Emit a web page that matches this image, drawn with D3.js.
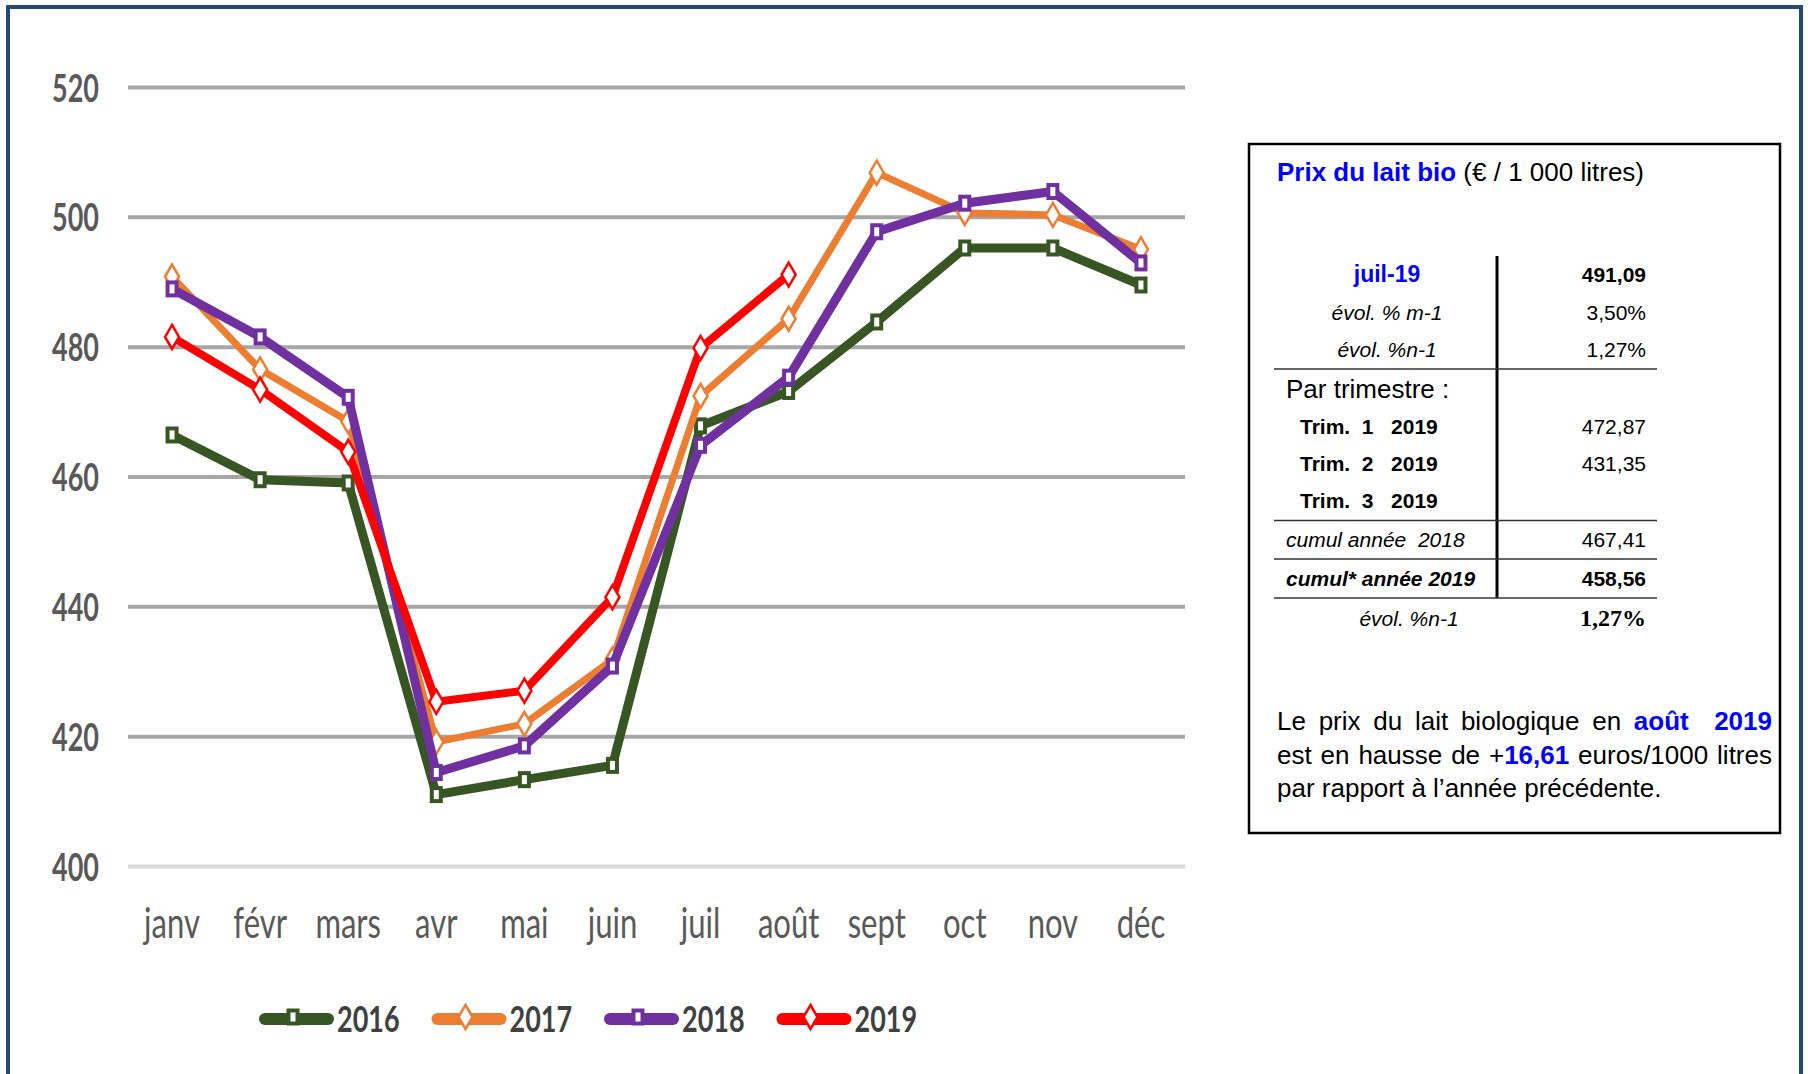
<!DOCTYPE html>
<html>
<head>
<meta charset="utf-8">
<script src="https://cdn.jsdelivr.net/npm/d3@7"></script>
<style>
  body { margin: 0; background: #fff; }
  text { white-space: pre; }
</style>
</head>
<body>
<div id="chart"></div>
<script>
// Data

const months = ['janv', 'févr', 'mars', 'avr', 'mai', 'juin', 'juil', 'août', 'sept', 'oct', 'nov', 'déc']
const years = ['2016', '2017', '2018', '2019']
const yTicks = [400, 420, 440, 460, 480, 500, 520]

const prices2016 = [466.4, 459.5, 459.0, 411.0, 413.3, 415.5, 467.8, 473.1, 483.8, 495.2, 495.2, 489.5]
const prices2017 = [490.8, 476.5, 468.5, 419.1, 421.9, 431.8, 472.4, 484.3, 506.8, 500.6, 500.3, 495.0]
const prices2018 = [488.9, 481.5, 472.2, 414.4, 418.5, 430.8, 464.8, 475.3, 497.7, 502.1, 503.9, 492.9]
const prices2019 = [481.5, 473.4, 463.8, 425.3, 427.0, 441.4, 479.8, 491.1]

const infoLabels = ['juil-19', 'évol. % m-1', 'évol. %n-1', 'Par trimestre :', 'Trim.  1   2019',
  'Trim.  2   2019', 'Trim.  3   2019', 'cumul année  2018', 'cumul* année 2019', 'évol. %n-1']
const infoValues = ['491,09', '3,50%', '1,27%', '', '472,87', '431,35', '', '467,41', '458,56', '1,27%']

// words of the comment, *...* = blue bold
const noteLines = [
  ['Le', 'prix', 'du', 'lait', 'biologique', 'en', '*août*', '', '*2019*'],
  ['est', 'en', 'hausse', 'de', '+*16,61*', 'euros/1000', 'litres'],
  ['par', 'rapport', 'à', 'l’année', 'précédente.']
]

// Styles

const seriesValues = [prices2016, prices2017, prices2018, prices2019]
const colors = ['#375623', '#ed7d31', '#7030a0', '#ff0000']
const lineWidths = [9, 7, 9, 8]
const shapes = ['square', 'diamond', 'square', 'diamond']

const chartFont = 'Lato, "Open Sans", sans-serif'
const tableFont = '"Liberation Sans", Arial, sans-serif'

const width = 1808
const height = 1074
const plot = { left: 128, right: 1185, top: 87, bottom: 866 }

const svg = d3
  .select('#chart')
  .append('svg')
  .attr('width', width)
  .attr('height', height)

// outer frame
svg
  .append('rect')
  .attr('x', 8)
  .attr('y', 7)
  .attr('width', 1793)
  .attr('height', 1100)
  .attr('fill', 'none')
  .attr('stroke', '#24497b')
  .attr('stroke-width', 4)

// Scales

const xScale = d3
  .scaleBand()
  .domain(months)
  .range([plot.left, plot.right])

const yScale = d3
  .scaleLinear()
  .domain([400, 520])
  .range([plot.bottom, plot.top])

const xCenter = m => xScale(m) + xScale.bandwidth() / 2

// Axes

const yAxis = d3
  .axisLeft(yScale)
  .tickValues(yTicks)
  .tickSize(-(plot.right - plot.left))

const gy = svg
  .append('g')
  .attr('transform', 'translate(' + plot.left + ',0)')
  .call(yAxis)

gy.select('.domain').remove()
gy.selectAll('.tick line')
  .attr('stroke', d => (d === 400 ? '#d9d9d9' : '#a6a6a6'))
  .attr('stroke-width', 4)
gy.selectAll('.tick text')
  .attr('transform', 'scale(0.9,1.3)')
  .attr('x', -29 / 0.9)
  .attr('y', 14 / 1.3)
  .attr('dy', 0)
  .attr('font-family', chartFont)
  .attr('font-weight', 'bold')
  .attr('font-size', 30)
  .attr('fill', '#595959')

const xAxis = d3.axisBottom(xScale).tickSize(0)

const gx = svg
  .append('g')
  .attr('transform', 'translate(0,' + plot.bottom + ')')
  .call(xAxis)

gx.select('.domain').remove()
gx.selectAll('.tick text')
  .attr('transform', 'scale(0.97,1.3)')
  .attr('y', 72 / 1.3)
  .attr('dy', 0)
  .attr('font-family', chartFont)
  .attr('font-size', 32)
  .attr('fill', '#595959')

// Lines and markers

function drawMarker(g, shape, color) {
  if (shape === 'square') {
    g.append('rect')
      .attr('x', -4.5)
      .attr('y', -6.5)
      .attr('width', 9)
      .attr('height', 13)
      .attr('fill', '#fff')
      .attr('stroke', color)
      .attr('stroke-width', 4)
  } else {
    g.append('path')
      .attr('d', 'M0,-12L7,0L0,12L-7,0Z')
      .attr('fill', '#fff')
      .attr('stroke', color)
      .attr('stroke-width', 2.5)
  }
}

const line = d3
  .line()
  .x((d, i) => xCenter(months[i]))
  .y(d => yScale(d))

seriesValues.forEach(function(values, s) {
  const g = svg.append('g')
  g.append('path')
    .datum(values)
    .attr('d', line)
    .attr('fill', 'none')
    .attr('stroke', colors[s])
    .attr('stroke-width', lineWidths[s])
    .attr('stroke-linejoin', 'round')

  g.selectAll('.marker')
    .data(values)
    .enter()
    .append('g')
    .attr('class', 'marker')
    .attr('transform', (d, i) => 'translate(' + xCenter(months[i]) + ',' + yScale(d) + ')')
    .each(function() {
      drawMarker(d3.select(this), shapes[s], colors[s])
    })
})

// Legend

const legendX = d3
  .scaleLinear()
  .domain([0, 1])
  .range([259, 431.5])

years.forEach(function(year, i) {
  const lx = legendX(i)
  const g = svg.append('g').attr('transform', 'translate(' + lx + ',1019)')
  g.append('line')
    .attr('x1', 6)
    .attr('x2', 69)
    .attr('stroke', colors[i])
    .attr('stroke-width', 12)
    .attr('stroke-linecap', 'round')
  const m = g.append('g').attr('transform', 'translate(34,-2)')
  drawMarker(m, shapes[i], colors[i])
  g.append('text')
    .attr('transform', 'translate(78,13) scale(0.9,1.2)')
    .attr('font-family', chartFont)
    .attr('font-weight', 'bold')
    .attr('font-size', 30)
    .attr('fill', '#404040')
    .text(year)
})

// Info box

const box = svg.append('g')

box.append('rect')
  .attr('x', 1249)
  .attr('y', 144)
  .attr('width', 531)
  .attr('height', 689)
  .attr('fill', 'none')
  .attr('stroke', '#000')
  .attr('stroke-width', 2.5)

const title = box
  .append('text')
  .attr('x', 1277)
  .attr('y', 181)
  .attr('font-family', tableFont)
  .attr('font-size', 26)
title.append('tspan').attr('fill', '#0000ff').attr('font-weight', 'bold').text('Prix du lait bio')
title.append('tspan').attr('fill', '#000').text(' (€ / 1 000 litres)')

// table rules
box.append('line')
  .attr('x1', 1497).attr('x2', 1497)
  .attr('y1', 256).attr('y2', 598)
  .attr('stroke', '#000').attr('stroke-width', 3)

;[369, 520.5, 559, 598].forEach(function(ly) {
  box.append('line')
    .attr('x1', 1274).attr('x2', 1657)
    .attr('y1', ly).attr('y2', ly)
    .attr('stroke', '#333').attr('stroke-width', 1.5)
})

const rowY = [282, 320, 356.5, 398, 434, 470.5, 508, 547, 586, 626]
const labelX = [1387, 1387, 1387, 1286, 1300, 1300, 1300, 1286, 1286, 1409]
const labelAnchor = ['middle', 'middle', 'middle', 'start', 'start', 'start', 'start', 'start', 'start', 'middle']
const labelStyle = ['blue', 'italic', 'italic', 'big', 'bold', 'bold', 'bold', 'italic', 'bolditalic', 'italic']
const valueStyle = ['bold', '', '', '', '', '', '', '', 'bold', 'serif']

infoLabels.forEach(function(label, i) {
  const st = labelStyle[i]
  box.append('text')
    .attr('x', labelX[i])
    .attr('y', rowY[i])
    .attr('text-anchor', labelAnchor[i])
    .attr('font-family', tableFont)
    .attr('font-size', st === 'big' ? 26 : st === 'blue' ? 23 : 21)
    .attr('font-weight', st === 'blue' || st === 'bold' || st === 'bolditalic' ? 'bold' : 'normal')
    .attr('font-style', st === 'italic' || st === 'bolditalic' ? 'italic' : 'normal')
    .attr('fill', st === 'blue' ? '#0000ff' : '#000')
    .text(label)

  const vs = valueStyle[i]
  box.append('text')
    .attr('x', 1646)
    .attr('y', rowY[i])
    .attr('text-anchor', 'end')
    .attr('font-family', vs === 'serif' ? '"Liberation Serif", "Times New Roman", serif' : tableFont)
    .attr('font-size', vs === 'serif' ? 24 : 21)
    .attr('font-weight', vs === 'bold' || vs === 'serif' ? 'bold' : 'normal')
    .attr('fill', '#000')
    .text(infoValues[i])
})

// Comment paragraph, justified like the original

const noteY = [730, 763.5, 796.5]
const noteLeft = 1277
const noteRight = 1772

function addWord(g, word, yb) {
  const t = g.append('text')
    .attr('y', yb)
    .attr('font-family', tableFont)
    .attr('font-size', 26)
  word.split('*').forEach(function(part, k) {
    if (part === '') return
    t.append('tspan')
      .attr('fill', k % 2 ? '#0000ff' : '#000')
      .attr('font-weight', k % 2 ? 'bold' : 'normal')
      .text(part)
  })
  return t
}

noteLines.forEach(function(words, li) {
  const g = box.append('g')
  const last = li === noteLines.length - 1
  if (last) {
    addWord(g, words.join(' '), noteY[li]).attr('x', noteLeft)
    return
  }
  const items = words.map(w => {
    const t = addWord(g, w, noteY[li])
    return { t, w: w === '' ? 0 : t.node().getComputedTextLength() }
  })
  const total = d3.sum(items, d => d.w)
  const gap = (noteRight - noteLeft - total) / (items.length - 1)
  let cx = noteLeft
  items.forEach(function(d) {
    d.t.attr('x', cx)
    cx += d.w + gap
  })
})
</script>
</body>
</html>
